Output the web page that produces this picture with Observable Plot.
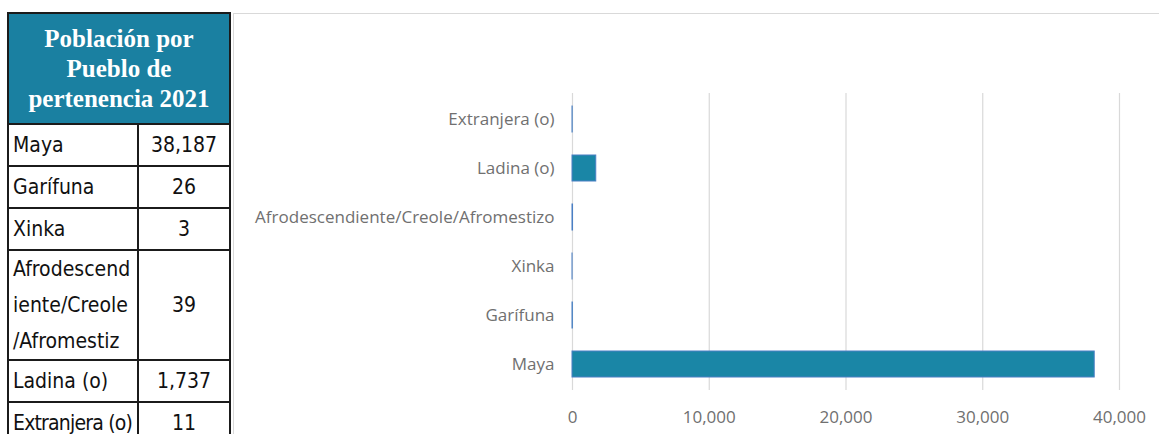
<!DOCTYPE html>
<html><head><meta charset="utf-8">
<script src="https://cdn.jsdelivr.net/npm/d3@7"></script>
<script src="https://cdn.jsdelivr.net/npm/@observablehq/plot@0.6"></script>
<style>
html,body{margin:0;padding:0;background:#fff;width:1159px;height:434px;overflow:hidden;position:relative;}
#tbl{position:absolute;left:7px;top:12px;width:222px;border-collapse:collapse;font-family:"Liberation Sans Narrow","DejaVu Sans Condensed","Roboto",sans-serif;font-size:21px;color:#111;table-layout:fixed;}
#tbl td,#tbl th{border:2px solid #1b1b1b;padding:0 4px;overflow:hidden;white-space:nowrap;}
#tbl th{background:#1a80a1;color:#fff;font-family:"Liberation Serif","DejaVu Serif",serif;font-weight:bold;font-size:25px;line-height:30px;height:109px;padding:0;}
#tbl td.v{text-align:center;}
#frame{position:absolute;left:233px;top:13px;width:940px;height:440px;border-top:1.5px solid #d9d9d9;border-left:1.5px solid #d9d9d9;}
#chart{position:absolute;left:233px;top:13px;}
</style></head><body>
<table id="tbl"></table>
<div id="frame"></div>
<div id="chart"></div>
<script>
const categories = ["Maya","Garífuna","Xinka","Afrodescendiente/Creole/Afromestizo","Ladina (o)","Extranjera (o)"];
const values = [38187,26,3,39,1737,11];
const tableLabels = ["Maya","Garífuna","Xinka","Afrodescend<br>iente/Creole<br>/Afromestiz","Ladina (o)","Extranjera (o)"];
const tableValues = ["38,187","26","3","39","1,737","11"];
const xTicks = [0,10000,20000,30000,40000];
const title = "Población por<br>Pueblo de<br>pertenencia 2021";

const tbl = document.getElementById("tbl");
let html = `<colgroup><col style="width:130px"><col style="width:92px"></colgroup><tr><th colspan="2">${title}</th></tr>`;
tableLabels.forEach((l,i)=>{
  const multi = l.includes("<br>");
  const ls = l.length > 12 && !multi ? "letter-spacing:-0.8px;" : "";
  html += `<tr style="height:${multi?110:42}px"><td style="line-height:${multi?36:38}px;${ls}">${l}</td><td class="v">${tableValues[i]}</td></tr>`;
});
tbl.innerHTML = html;

const data = categories.map((c,i)=>({cat:c, val:values[i]}));
const font = "'Open Sans', sans-serif";
const chart = Plot.plot({
  width: 926, height: 421,
  marginLeft: 339, marginRight: 40, marginTop: 80, marginBottom: 44,
  style: {fontFamily: font, fontSize: "17px", color: "#707070", background: "transparent"},
  x: {domain: [0,40000], label: null},
  y: {domain: categories.slice().reverse(), paddingInner: 0.46, paddingOuter: 0.23, label: null},
  marks: [
    Plot.ruleX(xTicks, {stroke: "#d9d9d9", strokeWidth: 1.2, strokeOpacity: 1}),
    Plot.barX(data, {x: "val", y: "cat", fill: "#1a86a6", stroke: "#4a7fc4", strokeWidth: 1}),
    Plot.axisX({ticks: xTicks, tickFormat: d3.format(","), tickSize: 0, tickPadding: 20, fontSize: 17, fill: "#707070", label: null}),
    Plot.axisY({tickSize: 0, tickPadding: 18, fontSize: 17, fill: "#707070", label: null})
  ]
});
document.getElementById("chart").appendChild(chart);
</script>
</body></html>
